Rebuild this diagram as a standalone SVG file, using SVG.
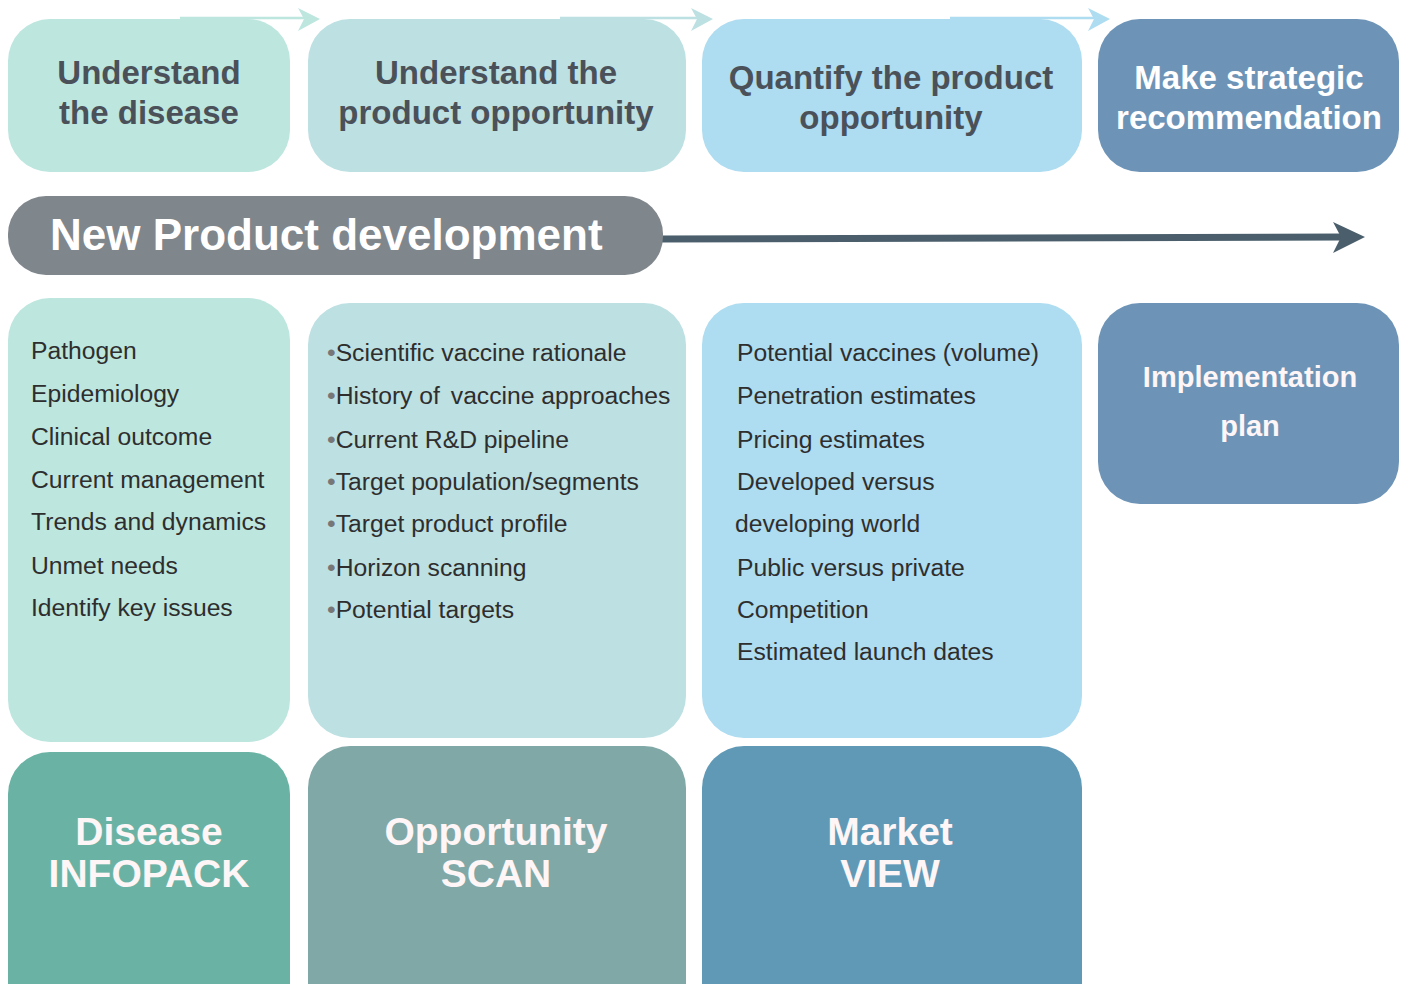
<svg xmlns="http://www.w3.org/2000/svg" width="1405" height="984" viewBox="0 0 1405 984">
<style>
.t{font-family:"Liberation Sans",Arial,sans-serif;}
.title{font-weight:bold;font-size:33px;fill:#4b5158;text-anchor:middle;}
.titlew{font-weight:bold;font-size:33px;fill:#ffffff;text-anchor:middle;}
.item{font-size:24.7px;fill:#2e2e2e;}
.bul{fill:#777;}
.big{font-weight:bold;font-size:39px;fill:#fdf5f6;text-anchor:middle;}
.impl{font-weight:bold;font-size:29px;fill:#fdf5f6;text-anchor:middle;}
</style>
<rect width="1405" height="984" fill="#ffffff"/>
<g id="connectors">
  <line x1="180" y1="18" x2="306" y2="18" stroke="#bde6df" stroke-width="2.5"/>
  <polygon points="298,8 320,19 298,31 304,19" fill="#bde6df"/>
  <line x1="560" y1="18" x2="699" y2="18" stroke="#bde0e2" stroke-width="2.5"/>
  <polygon points="691,8 713,19 691,31 697,19" fill="#bde0e2"/>
  <line x1="950" y1="18" x2="1096" y2="18" stroke="#aedcf0" stroke-width="2.5"/>
  <polygon points="1088,8 1110,19 1088,31 1094,19" fill="#aedcf0"/>
  <line x1="660" y1="239" x2="1342" y2="237" stroke="#4a5f6b" stroke-width="7"/>
  <polygon points="1333,222 1365,237 1333,253 1341,237" fill="#4a5f6b"/>
</g>
<g id="step1">
  <rect x="8" y="19" width="282" height="153" rx="42" fill="#bde6df"/>
  <text class="t title" x="149" y="84">Understand</text>
  <text class="t title" x="149" y="124">the disease</text>
</g>
<g id="step2">
  <rect x="308" y="19" width="378" height="153" rx="42" fill="#bde0e2"/>
  <text class="t title" x="496" y="84">Understand the</text>
  <text class="t title" x="496" y="124">product opportunity</text>
</g>
<g id="step3">
  <rect x="702" y="19" width="380" height="153" rx="42" fill="#aedcf0"/>
  <text class="t title" x="891" y="89">Quantify the product</text>
  <text class="t title" x="891" y="129">opportunity</text>
</g>
<g id="step4">
  <rect x="1098" y="19" width="301" height="153" rx="42" fill="#6d94b7"/>
  <text class="t titlew" x="1249" y="89">Make strategic</text>
  <text class="t titlew" x="1249" y="129">recommendation</text>
</g>
<g id="banner">
  <rect x="8" y="196" width="655" height="79" rx="38" fill="#7f868c"/>
  <text class="t" x="50" y="250" font-size="44" font-weight="bold" fill="#ffffff">New Product development</text>
</g>
<g id="list1">
  <rect x="8" y="298" width="282" height="444" rx="42" fill="#bde6df"/>
  <text class="t item" x="31" y="359">Pathogen</text>
  <text class="t item" x="31" y="402">Epidemiology</text>
  <text class="t item" x="31" y="445">Clinical outcome</text>
  <text class="t item" x="31" y="488">Current management</text>
  <text class="t item" x="31" y="530">Trends and dynamics</text>
  <text class="t item" x="31" y="574">Unmet needs</text>
  <text class="t item" x="31" y="616">Identify key issues</text>
</g>
<g id="list2">
  <rect x="308" y="303" width="378" height="435" rx="42" fill="#bde0e2"/>
  <text class="t item" x="327" y="361"><tspan class="bul">•</tspan>Scientific vaccine rationale</text>
  <text class="t item" x="327" y="404"><tspan class="bul">•</tspan>History of <tspan dx="4">vaccine approaches</tspan></text>
  <text class="t item" x="327" y="448"><tspan class="bul">•</tspan>Current R&amp;D pipeline</text>
  <text class="t item" x="327" y="490"><tspan class="bul">•</tspan>Target population/segments</text>
  <text class="t item" x="327" y="532"><tspan class="bul">•</tspan>Target product profile</text>
  <text class="t item" x="327" y="576"><tspan class="bul">•</tspan>Horizon scanning</text>
  <text class="t item" x="327" y="618"><tspan class="bul">•</tspan>Potential targets</text>
</g>
<g id="list3">
  <rect x="702" y="303" width="380" height="435" rx="42" fill="#aedcf0"/>
  <text class="t item" x="737" y="361">Potential vaccines (volume)</text>
  <text class="t item" x="737" y="404">Penetration estimates</text>
  <text class="t item" x="737" y="448">Pricing estimates</text>
  <text class="t item" x="737" y="490">Developed versus</text>
  <text class="t item" x="735" y="532">developing world</text>
  <text class="t item" x="737" y="576">Public versus private</text>
  <text class="t item" x="737" y="618">Competition</text>
  <text class="t item" x="737" y="660">Estimated launch dates</text>
</g>
<g id="implementation">
  <rect x="1098" y="303" width="301" height="201" rx="42" fill="#6d94b7"/>
  <text class="t impl" x="1250" y="387">Implementation</text>
  <text class="t impl" x="1250" y="436">plan</text>
</g>
<g id="infopack">
  <rect x="8" y="752" width="282" height="280" rx="42" fill="#6ab3a4"/>
  <text class="t big" x="149" y="845">Disease</text>
  <text class="t big" x="149" y="887">INFOPACK</text>
</g>
<g id="scan">
  <rect x="308" y="746" width="378" height="286" rx="42" fill="#80a8a7"/>
  <text class="t big" x="496" y="845">Opportunity</text>
  <text class="t big" x="496" y="887">SCAN</text>
</g>
<g id="market">
  <rect x="702" y="746" width="380" height="286" rx="42" fill="#6099b6"/>
  <text class="t big" x="890" y="845">Market</text>
  <text class="t big" x="890" y="887">VIEW</text>
</g>
</svg>
